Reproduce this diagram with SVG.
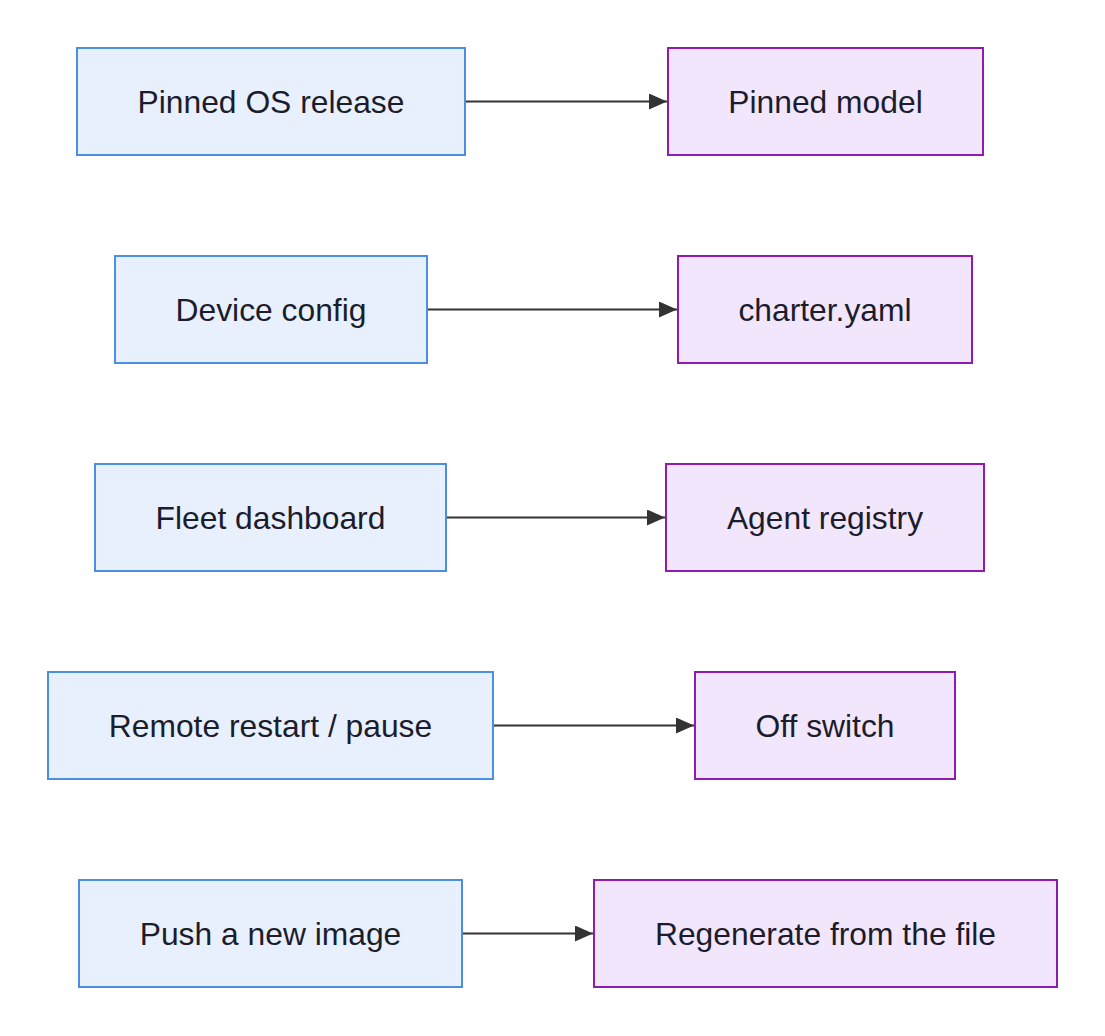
<svg xmlns="http://www.w3.org/2000/svg" width="1105" height="1036" viewBox="0 0 1105 1036">
<style>
.l rect{fill:#e8f0fd;stroke:#4a8fe0;stroke-width:2}
.r rect{fill:#f1e6fc;stroke:#8f1cae;stroke-width:2}
text{font-family:"Liberation Sans",Arial,sans-serif;font-size:31.8px;fill:#1c1c2c;text-anchor:middle;dominant-baseline:central}
.e path{stroke:#333;stroke-width:2;fill:none}
</style>
<defs>
<marker id="ah" markerUnits="userSpaceOnUse" markerWidth="18" markerHeight="16" refX="18" refY="8" orient="auto"><path d="M0,0 L18,8 L0,16 Z" fill="#333"/></marker>
</defs>
<rect width="1105" height="1036" fill="#fff"/>
<g class="e" id="edges">
<path d="M466,101.5 H667" marker-end="url(#ah)"/>
<path d="M428,309.5 H677" marker-end="url(#ah)"/>
<path d="M447,517.5 H665" marker-end="url(#ah)"/>
<path d="M494,725.5 H694" marker-end="url(#ah)"/>
<path d="M463,933.5 H593" marker-end="url(#ah)"/>
</g>
<g id="n1" class="l"><rect x="77" y="48" width="388" height="107"/><text x="271" y="101.5">Pinned OS release</text></g>
<g id="n2" class="r"><rect x="668" y="48" width="315" height="107"/><text x="825.5" y="101.5">Pinned model</text></g>
<g id="n3" class="l"><rect x="115" y="256" width="312" height="107"/><text x="271" y="309.5">Device config</text></g>
<g id="n4" class="r"><rect x="678" y="256" width="294" height="107"/><text x="825" y="309.5">charter.yaml</text></g>
<g id="n5" class="l"><rect x="95" y="464" width="351" height="107"/><text x="270.5" y="517.5">Fleet dashboard</text></g>
<g id="n6" class="r"><rect x="666" y="464" width="318" height="107"/><text x="825" y="517.5">Agent registry</text></g>
<g id="n7" class="l"><rect x="48" y="672" width="445" height="107"/><text x="270.5" y="725.5">Remote restart / pause</text></g>
<g id="n8" class="r"><rect x="695" y="672" width="260" height="107"/><text x="825" y="725.5">Off switch</text></g>
<g id="n9" class="l"><rect x="79" y="880" width="383" height="107"/><text x="270.5" y="933.5">Push a new image</text></g>
<g id="n10" class="r"><rect x="594" y="880" width="463" height="107"/><text x="825.5" y="933.5">Regenerate from the file</text></g>
</svg>
